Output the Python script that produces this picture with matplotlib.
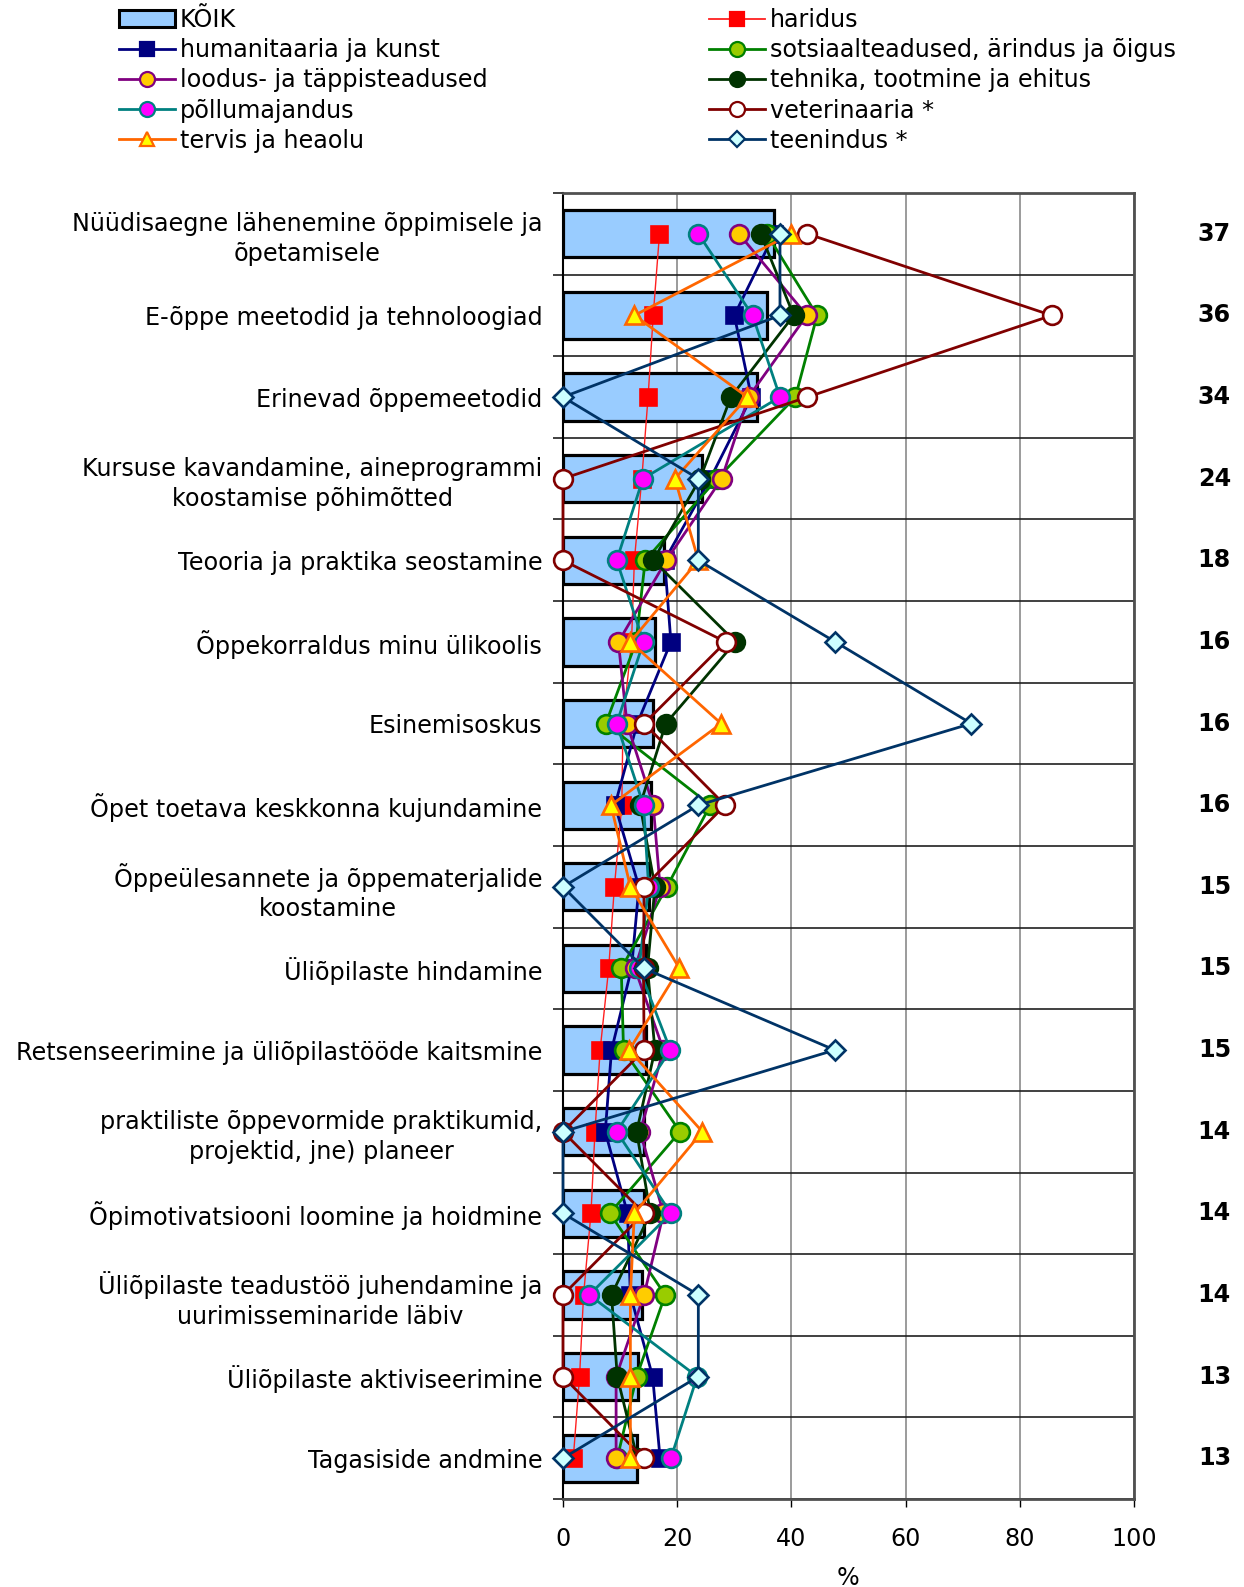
import numpy as np
import matplotlib
matplotlib.use('Agg')
import matplotlib.pyplot as plt
from matplotlib.patches import Patch
from matplotlib.lines import Line2D
import matplotlib.transforms as mtransforms

categories = [
    "Nüüdisaegne lähenemine õppimisele ja\nõpetamisele",
    "E-õppe meetodid ja tehnoloogiad",
    "Erinevad õppemeetodid",
    "Kursuse kavandamine, aineprogrammi\nkoostamise põhimõtted",
    "Teooria ja praktika seostamine",
    "Õppekorraldus minu ülikoolis",
    "Esinemisoskus",
    "Õpet toetava keskkonna kujundamine",
    "Õppeülesannete ja õppematerjalide\nkoostamine",
    "Üliõpilaste hindamine",
    "Retsenseerimine ja üliõpilastööde kaitsmine",
    "praktiliste õppevormide praktikumid,\nprojektid, jne) planeer",
    "Õpimotivatsiooni loomine ja hoidmine",
    "Üliõpilaste teadustöö juhendamine ja\nuurimisseminaride läbiv",
    "Üliõpilaste aktiviseerimine",
    "Tagasiside andmine",
]

koik = [37.0, 35.7, 34.0, 24.3, 17.7, 16.1, 15.8, 15.4, 15.0, 14.6, 14.6, 14.2, 14.1, 13.8, 13.2, 12.9]
koik_labels = ["37", "36", "34", "24", "18", "16", "16", "16", "15", "15", "15", "14", "14", "14", "13", "13"]

haridus = [16.9, 15.8, 14.9, 13.8, 12.5, 12.0, 10.5, 10.3, 9.0, 8.0, 6.5, 5.6, 4.9, 3.6, 2.9, 1.8]
humanitaaria = [37.0, 30.0, 33.0, 25.8, 17.8, 18.9, 13.0, 9.1, 13.3, 12.0, 8.5, 7.4, 11.3, 11.8, 15.7, 17.0]
sotsiaal = [35.7, 44.5, 40.7, 27.0, 14.4, 12.8, 7.5, 25.8, 18.2, 10.2, 10.6, 20.5, 8.2, 17.9, 12.9, 9.5]
loodus = [30.8, 42.7, 32.5, 27.8, 18.1, 9.7, 11.2, 15.8, 17.0, 12.6, 17.6, 13.5, 17.6, 14.2, 9.3, 9.3]
tehnika = [34.6, 40.4, 29.4, 24.0, 15.8, 30.2, 18.0, 13.5, 16.1, 14.8, 16.1, 12.9, 15.3, 8.5, 9.5, 13.0]
pollumajandus = [23.7, 33.2, 38.0, 14.0, 9.4, 14.1, 9.4, 14.1, 15.0, 13.3, 18.8, 9.4, 18.9, 4.6, 23.5, 18.9]
veterinaaria = [42.8, 85.6, 42.8, 0.0, 0.0, 28.5, 14.2, 28.4, 14.2, 14.1, 14.2, 0.0, 14.2, 0.0, 0.0, 14.1]
tervis = [40.0, 12.5, 32.3, 19.6, 23.7, 11.8, 27.7, 8.4, 11.8, 20.4, 11.6, 24.4, 12.5, 11.8, 11.8, 11.8]
teenindus = [38.0, 38.0, 0.0, 23.7, 23.7, 47.7, 71.5, 23.7, 0.0, 14.2, 47.6, 0.0, 0.0, 23.7, 23.7, 0.0]

x_ticks = [0, 20, 40, 60, 80, 100]

# (label, values, line color, linewidth, marker, markersize, face, edge)
series = [
    ("haridus", haridus, "#FF2020", 1.0, "s", 12, "#FF0000", "#FF0000"),
    ("humanitaaria ja kunst", humanitaaria, "#000080", 2.0, "s", 12, "#000080", "#000080"),
    ("sotsiaalteadused, ärindus ja õigus", sotsiaal, "#008000", 2.0, "o", 13.5, "#99CC00", "#008000"),
    ("loodus- ja täppisteadused", loodus, "#800080", 2.0, "o", 13.5, "#FFCC00", "#800080"),
    ("tehnika, tootmine ja ehitus", tehnika, "#003300", 2.0, "o", 13.5, "#003300", "#003300"),
    ("põllumajandus", pollumajandus, "#008080", 2.0, "o", 13.5, "#FF00FF", "#008080"),
    ("veterinaaria *", veterinaaria, "#800000", 2.0, "o", 13.5, "#FFFFFF", "#800000"),
    ("tervis ja heaolu", tervis, "#FF6600", 2.0, "^", 13, "#FFFF00", "#FF6600"),
    ("teenindus *", teenindus, "#003366", 2.0, "D", 10.5, "#CCFFFF", "#003366"),
]

FS = 17.2
plt.rcParams['font.family'] = ['DejaVu Sans']

W, H = 1244, 1587
fig = plt.figure(figsize=(W / 100, H / 100), dpi=100)
ax = fig.add_axes([563 / W, 1 - 1499 / H, (1134 - 563) / W, (1499 - 193) / H])

y = np.arange(len(categories))
ax.barh(y, koik, height=0.58, color="#99CCFF", edgecolor="black", linewidth=2.3, zorder=2)

handles = {}
for i, (lab, vals, col, lw, mk, ms, fc, ec) in enumerate(series):
    ax.plot(vals, y, color=col, lw=lw, marker=mk, ms=ms, mfc=fc, mec=ec, mew=1.9,
            clip_on=False, zorder=3 + i)
    handles[lab] = Line2D([], [], color=col, lw=lw if lw > 1.5 else 1.3, marker=mk,
                          ms=ms * 0.8, mfc=fc, mec=ec, mew=1.6)

ax.set_xlim(0, 100)
ax.set_ylim(len(categories) - 0.5, -0.5)
ax.set_axisbelow(True)

ax.set_yticks(y)
ax.set_yticklabels(categories, fontsize=FS)
for t in ax.get_yticklabels():
    t.set_multialignment('center')
    t.set_linespacing(1.3)
ax.tick_params(axis='y', which='major', length=0, pad=15)
ax.set_yticks(np.arange(-0.5, len(categories), 1), minor=True)
ax.tick_params(axis='y', which='minor', length=7, width=1.2, direction='out', color='#202020')
ax.grid(axis='y', which='minor', color='#202020', lw=1.2)

ax.set_xticks(x_ticks)
ax.tick_params(axis='x', which='major', length=6, width=1, direction='out', labelsize=FS, pad=14)
ax.grid(axis='x', which='major', color='#808080', lw=1.1)

ax.set_xlabel('%', fontsize=FS)
ax.xaxis.set_label_coords(0.5, -(1578 - 1499) / (1499 - 193))
ax.xaxis.label.set_va('center')

for s in ['top', 'right', 'bottom']:
    ax.spines[s].set_color('#505050')
    ax.spines[s].set_linewidth(2)
ax.spines['left'].set_color('black')
ax.spines['left'].set_linewidth(1.5)

trans = mtransforms.blended_transform_factory(ax.transAxes, ax.transData)
xr = 1 + (1231 - 1134) / (1134 - 563)
for yi, lab in zip(y, koik_labels):
    ax.text(xr, yi, lab, transform=trans, ha='right', va='center', fontsize=FS,
            fontweight='bold', clip_on=False)

bar_handle = Patch(facecolor="#99CCFF", edgecolor="black", linewidth=2.2)
left_labels = ["KÕIK", "humanitaaria ja kunst", "loodus- ja täppisteadused", "põllumajandus", "tervis ja heaolu"]
right_labels = ["haridus", "sotsiaalteadused, ärindus ja õigus", "tehnika, tootmine ja ehitus",
                "veterinaaria *", "teenindus *"]
left_handles = [bar_handle] + [handles[l] for l in left_labels[1:]]
right_handles = [handles[l] for l in right_labels]

common = dict(loc='upper left', frameon=False, fontsize=FS, handlelength=2.35,
              handletextpad=0.2, labelspacing=0.26, borderpad=0, borderaxespad=0, numpoints=1)
fig.legend(left_handles, left_labels, bbox_to_anchor=(119 / W, 1 - 8 / H), **common)
fig.legend(right_handles, right_labels, bbox_to_anchor=(709 / W, 1 - 8 / H), **common)

fig.savefig("out.png", dpi=100)
